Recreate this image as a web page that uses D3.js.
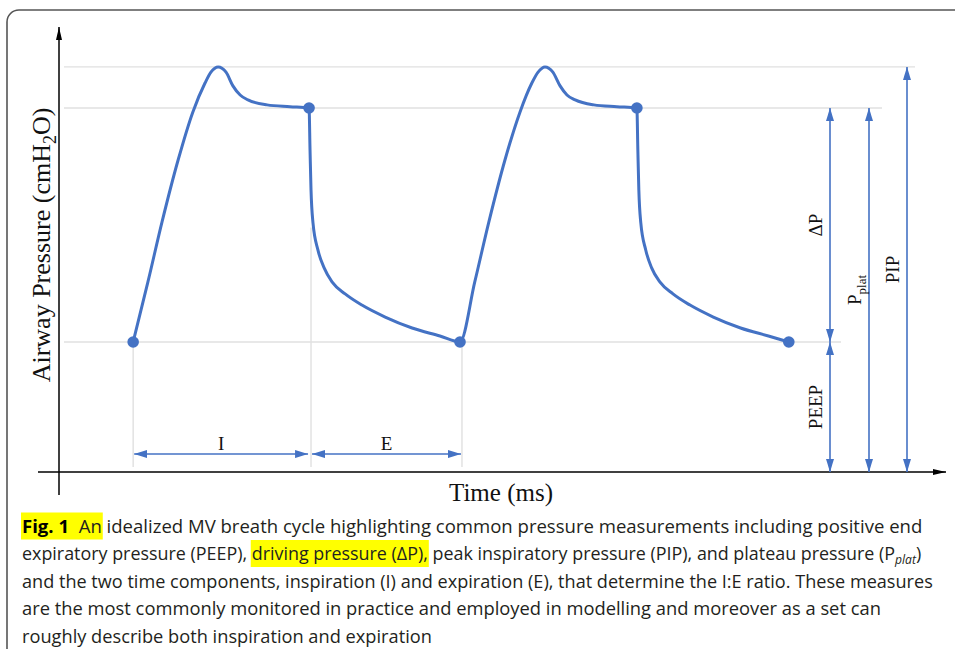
<!DOCTYPE html>
<html>
<head>
<meta charset="utf-8">
<script src="https://cdn.jsdelivr.net/npm/d3@7"></script>
<style>
  body { margin: 0; background: #fff; }
</style>
</head>
<body>
<div id="chart"></div>
<script>
// pressure trace, two breath cycles (time in ms, pressure in cmH2O)
const timeMs = [226, 271, 314, 363, 408, 445, 463, 485, 509, 530, 552, 576, 634, 704, 762,
    765, 768, 774, 789, 808, 832, 872, 923, 994, 1076, 1161, 1222,
    1267, 1310, 1359, 1405, 1441, 1460, 1481, 1505, 1527, 1548, 1573, 1630, 1700, 1761,
    1764, 1767, 1773, 1788, 1806, 1831, 1871, 1923, 1994, 2077, 2162, 2224];
const pressure = [5.0, 7.31, 9.62, 12.0, 13.85, 14.96, 15.38, 15.58, 15.38, 14.85, 14.5, 14.31, 14.12, 14.05, 14.0,
    12.38, 10.85, 9.58, 8.54, 7.85, 7.31, 6.85, 6.42, 5.96, 5.54, 5.23, 5.0,
    7.31, 9.62, 12.0, 13.85, 14.96, 15.38, 15.58, 15.38, 14.85, 14.5, 14.31, 14.12, 14.05, 14.0,
    12.38, 10.85, 9.58, 8.54, 7.85, 7.31, 6.85, 6.42, 5.96, 5.54, 5.23, 5.0];

// marked points on the trace
const dotTimes = [226, 762, 1222, 1761, 2224];
const dotPressure = [5.0, 14.0, 5.0, 14.0, 5.0];

// reference pressure levels
const levelNames = ['PEEP', 'Pplat', 'PIP'];
const levelValues = [5.0, 14.0, 15.58];

// pressure ranges shown with double arrows
const rangeNames = ['ΔP', 'PEEP', 'Pplat', 'PIP'];
const rangeFrom = [5.0, 0, 0, 0];
const rangeTo = [14.0, 5.0, 14.0, 15.58];

// time phases
const phaseNames = ['I', 'E'];
const phaseStart = [226, 768];
const phaseEnd = [762, 1228];
const guideTimes = [226, 768, 1228];
const guideTop = [5.0, 9.4, 5.0];

const width = 955, height = 649;
const blue = '#4472c4';
const serif = '"Liberation Serif", "DejaVu Serif", serif';

const x = d3.scaleLinear().domain([0, 2700]).range([59, 945]);
const y = d3.scaleLinear().domain([0, 18]).range([472, 4]);

const svg = d3.select('#chart')
    .append('svg')
    .attr('width', width)
    .attr('height', height)
    .style('display', 'block');

const defs = svg.append('defs');
defs.append('marker')
    .attr('id', 'axisHead')
    .attr('markerUnits', 'userSpaceOnUse')
    .attr('markerWidth', 13).attr('markerHeight', 6)
    .attr('refX', 13).attr('refY', 3)
    .attr('orient', 'auto')
    .append('path').attr('d', 'M0,0L13,3L0,6Z').attr('fill', '#000');
defs.append('marker')
    .attr('id', 'blueHead')
    .attr('markerUnits', 'userSpaceOnUse')
    .attr('markerWidth', 13).attr('markerHeight', 8)
    .attr('refX', 13).attr('refY', 4)
    .attr('orient', 'auto-start-reverse')
    .append('path').attr('d', 'M0,0L13,4L0,8Z').attr('fill', blue);

// figure frame
svg.append('path')
    .attr('d', `M7,${height}V22A12,12 0 0 1 19,10H${width}`)
    .attr('fill', 'none')
    .attr('stroke', '#555')
    .attr('stroke-width', 1.6);

// grid lines at the pressure levels
const gridEnd = {PEEP: 841, Pplat: 882, PIP: 915};
svg.append('g')
    .selectAll('line')
    .data(levelNames)
    .join('line')
        .attr('x1', 64)
        .attr('x2', d => gridEnd[d])
        .attr('y1', (d, i) => y(levelValues[i]))
        .attr('y2', (d, i) => y(levelValues[i]))
        .attr('stroke', '#e0e0e0')
        .attr('stroke-width', 1.4);

// vertical guides for the phases
svg.append('g')
    .selectAll('line')
    .data(guideTimes)
    .join('line')
        .attr('x1', d => x(d)).attr('x2', d => x(d))
        .attr('y1', (d, i) => y(guideTop[i]))
        .attr('y2', y(0.19))
        .attr('stroke', '#e0e0e0')
        .attr('stroke-width', 1.4);

// axes
svg.append('line')
    .attr('x1', x(0)).attr('x2', x(0))
    .attr('y1', 495).attr('y2', 27)
    .attr('stroke', '#000').attr('stroke-width', 1.5)
    .attr('marker-end', 'url(#axisHead)');
svg.append('line')
    .attr('x1', 38).attr('x2', 946)
    .attr('y1', y(0)).attr('y2', y(0))
    .attr('stroke', '#000').attr('stroke-width', 1.5)
    .attr('marker-end', 'url(#axisHead)');

// the pressure trace
const line = d3.line()
    .x(d => x(d[0]))
    .y(d => y(d[1]))
    .curve(d3.curveMonotoneX);

svg.append('path')
    .datum(d3.zip(timeMs, pressure))
    .attr('d', line)
    .attr('fill', 'none')
    .attr('stroke', blue)
    .attr('stroke-width', 3)
    .attr('stroke-linejoin', 'round');

svg.append('g')
    .selectAll('circle')
    .data(dotTimes)
    .join('circle')
        .attr('cx', d => x(d))
        .attr('cy', (d, i) => y(dotPressure[i]))
        .attr('r', 5.8)
        .attr('fill', blue);

// pressure range arrows and labels
const rangeX = {'ΔP': 830, 'PEEP': 830, 'Pplat': 869, 'PIP': 907};
const ranges = svg.append('g');
rangeNames.forEach((name, i) => {
    const xp = rangeX[name];
    ranges.append('line')
        .attr('x1', xp).attr('x2', xp)
        .attr('y1', y(rangeTo[i])).attr('y2', y(rangeFrom[i]))
        .attr('stroke', blue).attr('stroke-width', 1.6)
        .attr('marker-start', 'url(#blueHead)')
        .attr('marker-end', 'url(#blueHead)');
    const mid = (y(rangeTo[i]) + y(rangeFrom[i])) / 2;
    const t = ranges.append('text')
        .attr('transform', `translate(${xp - 15},${mid}) rotate(-90)`)
        .attr('text-anchor', 'middle')
        .attr('dy', '0.35em')
        .attr('font-family', serif)
        .attr('font-size', 19)
        .attr('fill', '#111');
    if (name === 'Pplat') {
        t.append('tspan').text('P');
        t.append('tspan').text('plat').attr('font-size', 13).attr('dy', 5);
    } else {
        t.text(name);
    }
});

// phase arrows
const phases = svg.append('g');
phaseNames.forEach((name, i) => {
    phases.append('line')
        .attr('x1', x(phaseStart[i]) + 1).attr('x2', x(phaseEnd[i]) - 1)
        .attr('y1', y(0.69)).attr('y2', y(0.69))
        .attr('stroke', blue).attr('stroke-width', 1.6)
        .attr('marker-start', 'url(#blueHead)')
        .attr('marker-end', 'url(#blueHead)');
    phases.append('text')
        .attr('x', (x(phaseStart[i]) + x(phaseEnd[i])) / 2)
        .attr('y', 450)
        .attr('text-anchor', 'middle')
        .attr('font-family', serif)
        .attr('font-size', 19)
        .attr('fill', '#111')
        .text(name);
});

// axis titles
const yTitle = svg.append('text')
    .attr('transform', 'translate(41,245) rotate(-90)')
    .attr('text-anchor', 'middle')
    .attr('dy', '0.35em')
    .attr('font-family', serif)
    .attr('font-size', 26)
    .attr('fill', '#111');
yTitle.append('tspan').text('Airway Pressure (cmH');
yTitle.append('tspan').text('2').attr('font-size', 18).attr('dy', 6);
yTitle.append('tspan').text('O)').attr('dy', -6);

svg.append('text')
    .attr('x', 501).attr('y', 501)
    .attr('text-anchor', 'middle')
    .attr('font-family', serif)
    .attr('font-size', 25)
    .attr('fill', '#111')
    .text('Time (ms)');

// caption
const capLines = [
    [{t: 'Fig. 1', b: 1, hl: 1}, {t: '  An', hl: 1}, {t: ' idealized MV breath cycle highlighting common pressure measurements including positive end'}],
    [{t: 'expiratory pressure (PEEP), '}, {t: 'driving pressure (ΔP),', hl: 1}, {t: ' peak inspiratory pressure (PIP), and plateau pressure (P'}, {t: 'plat', sub: 1}, {t: ')'}],
    [{t: 'and the two time components, inspiration (I) and expiration (E), that determine the I:E ratio. These measures'}],
    [{t: 'are the most commonly monitored in practice and employed in modelling and moreover as a set can'}],
    [{t: 'roughly describe both inspiration and expiration'}]
];
const capBase = [533, 560.5, 588, 615.5, 643];
const capWidth = [901, 900, 911, 860, 410];

const cap = svg.append('g').attr('transform', 'translate(22,0)');
capLines.forEach((segs, i) => {
    const row = cap.append('g');
    const txt = row.append('text')
        .attr('y', capBase[i])
        .attr('font-family', '"Open Sans", "Noto Sans", sans-serif')
        .attr('font-size', 18.5)
        .attr('fill', '#231f20')
        .style('white-space', 'pre');
    let shifted = false;
    const marked = [];
    segs.forEach(s => {
        const ts = txt.append('tspan').text(s.t);
        if (s.b) ts.attr('font-weight', 'bold').attr('fill', '#000');
        if (s.sub) {
            ts.attr('font-size', 12.5).attr('font-style', 'italic').attr('dy', 4);
            shifted = true;
        } else if (shifted) {
            ts.attr('dy', -4);
            shifted = false;
        }
        if (s.hl) marked.push(ts.node());
    });
    const w = txt.node().getComputedTextLength();
    row.attr('transform', `scale(${capWidth[i] / w},1)`);

    // yellow highlight behind marked words
    if (marked.length) {
        const boxes = marked.map(n => n.getBBox());
        const x0 = d3.min(boxes, b => b.x);
        const x1 = d3.max(boxes, b => b.x + b.width);
        row.insert('rect', 'text')
            .attr('x', x0 - 1)
            .attr('width', x1 - x0 + 2)
            .attr('y', capBase[i] - 20.5)
            .attr('height', 27)
            .attr('fill', '#ffff00');
    }
});
</script>
</body>
</html>
